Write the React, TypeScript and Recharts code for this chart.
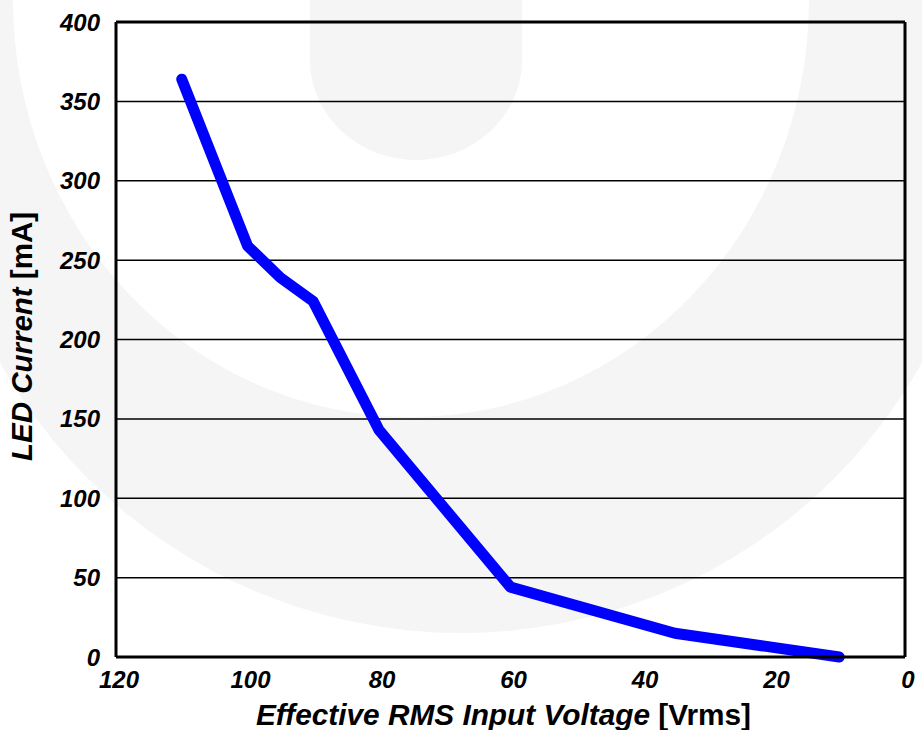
import React from "react";
import {
  LineChart,
  Line,
  XAxis,
  YAxis,
  CartesianGrid,
  ReferenceLine,
  Label,
} from "recharts";

// Data
const voltage: number[] = [110, 100, 95, 90, 80, 60, 35, 10];
const current: number[] = [364, 259, 239, 224, 143, 44, 15, 0];
const xTicks: number[] = [0, 20, 40, 60, 80, 100, 120];
const yTicks: number[] = [0, 50, 100, 150, 200, 250, 300, 350, 400];
const xTitleMain = "Effective RMS Input Voltage ";
const xTitleUnit = "[Vrms]";
const yTitleMain = "LED Current ";
const yTitleUnit = "[mA]";

const data = voltage.map((v, i) => ({ v, i: current[i] }));

const FONT = "'Liberation Sans', Arial, Helvetica, sans-serif";

const XTick = (props: any) => {
  const { x, y, payload } = props;
  return (
    <text
      x={x + 3}
      y={y}
      dy="0.71em"
      textAnchor="middle"
      fontFamily={FONT}
      fontSize={24}
      fontWeight="bold"
      fontStyle="italic"
      fill="#000"
    >
      {payload.value}
    </text>
  );
};

const YTick = (props: any) => {
  const { x, y, payload } = props;
  return (
    <text
      x={x}
      y={y}
      dy="0.355em"
      textAnchor="end"
      fontFamily={FONT}
      fontSize={24}
      fontWeight="bold"
      fontStyle="italic"
      fill="#000"
    >
      {payload.value}
    </text>
  );
};

const XTitle = (props: any) => {
  const vb = props.viewBox || { x: 0, y: 0, width: 0, height: 0 };
  const cx = vb.x + vb.width / 2 - 7;
  return (
    <text
      x={cx}
      y={725}
      textAnchor="middle"
      fontFamily={FONT}
      fontSize={29.8}
      fontWeight="bold"
      fill="#000"
    >
      <tspan fontStyle="italic">{xTitleMain}</tspan>
      <tspan>{xTitleUnit}</tspan>
    </text>
  );
};

const YTitle = (props: any) => {
  const vb = props.viewBox || { x: 0, y: 0, width: 0, height: 0 };
  const cy = vb.y + vb.height / 2 - 3;
  const bx = 32;
  return (
    <text
      x={bx}
      y={cy}
      transform={`rotate(-90, ${bx}, ${cy})`}
      textAnchor="middle"
      fontFamily={FONT}
      fontSize={29.5}
      fontWeight="bold"
      fill="#000"
    >
      <tspan fontStyle="italic">{yTitleMain}</tspan>
      <tspan>{yTitleUnit}</tspan>
    </text>
  );
};

const Watermark = () => (
  <svg
    width={922}
    height={730}
    style={{ position: "absolute", left: 0, top: 0 }}
  >
    <rect x={0} y={0} width={922} height={730} fill="#fff" />
    <circle cx={461} cy={105} r={528} fill="#f5f5f5" />
    <ellipse cx={411} cy={0} rx={398} ry={417} fill="#fff" />
    <path d="M310,0 L310,60 A106,100 0 0 0 522,60 L522,0 Z" fill="#f5f5f5" />
  </svg>
);

export default function App() {
  return (
    <div
      style={{
        position: "absolute",
        left: 0,
        top: 0,
        width: 922,
        height: 730,
        overflow: "hidden",
        background: "#fff",
      }}
    >
      <Watermark />
      <div style={{ position: "absolute", left: 0, top: 0 }}>
        <LineChart
          width={922}
          height={730}
          data={data}
          margin={{ top: 22, right: 17, bottom: 0, left: 0 }}
        >
          <CartesianGrid
            vertical={false}
            stroke="#000"
            strokeWidth={1.5}
          />
          <XAxis
            type="number"
            dataKey="v"
            domain={[0, 120]}
            ticks={xTicks}
            reversed
            height={73}
            tickSize={0}
            tickMargin={14}
            tickLine={false}
            axisLine={{ stroke: "#000", strokeWidth: 3 }}
            tick={<XTick />}
            interval={0}
          >
            <Label content={<XTitle />} />
          </XAxis>
          <YAxis
            type="number"
            domain={[0, 400]}
            ticks={yTicks}
            width={116}
            tickSize={0}
            tickMargin={16}
            tickLine={false}
            axisLine={{ stroke: "#000", strokeWidth: 3 }}
            tick={<YTick />}
            interval={0}
          >
            <Label content={<YTitle />} />
          </YAxis>
          <ReferenceLine y={400} stroke="#000" strokeWidth={3} />
          <ReferenceLine x={0} stroke="#000" strokeWidth={3} />
          <Line
            type="linear"
            dataKey="i"
            stroke="#0000ff"
            strokeWidth={11}
            strokeLinecap="round"
            strokeLinejoin="round"
            dot={false}
            activeDot={false}
            isAnimationActive={false}
          />
        </LineChart>
      </div>
    </div>
  );
}
